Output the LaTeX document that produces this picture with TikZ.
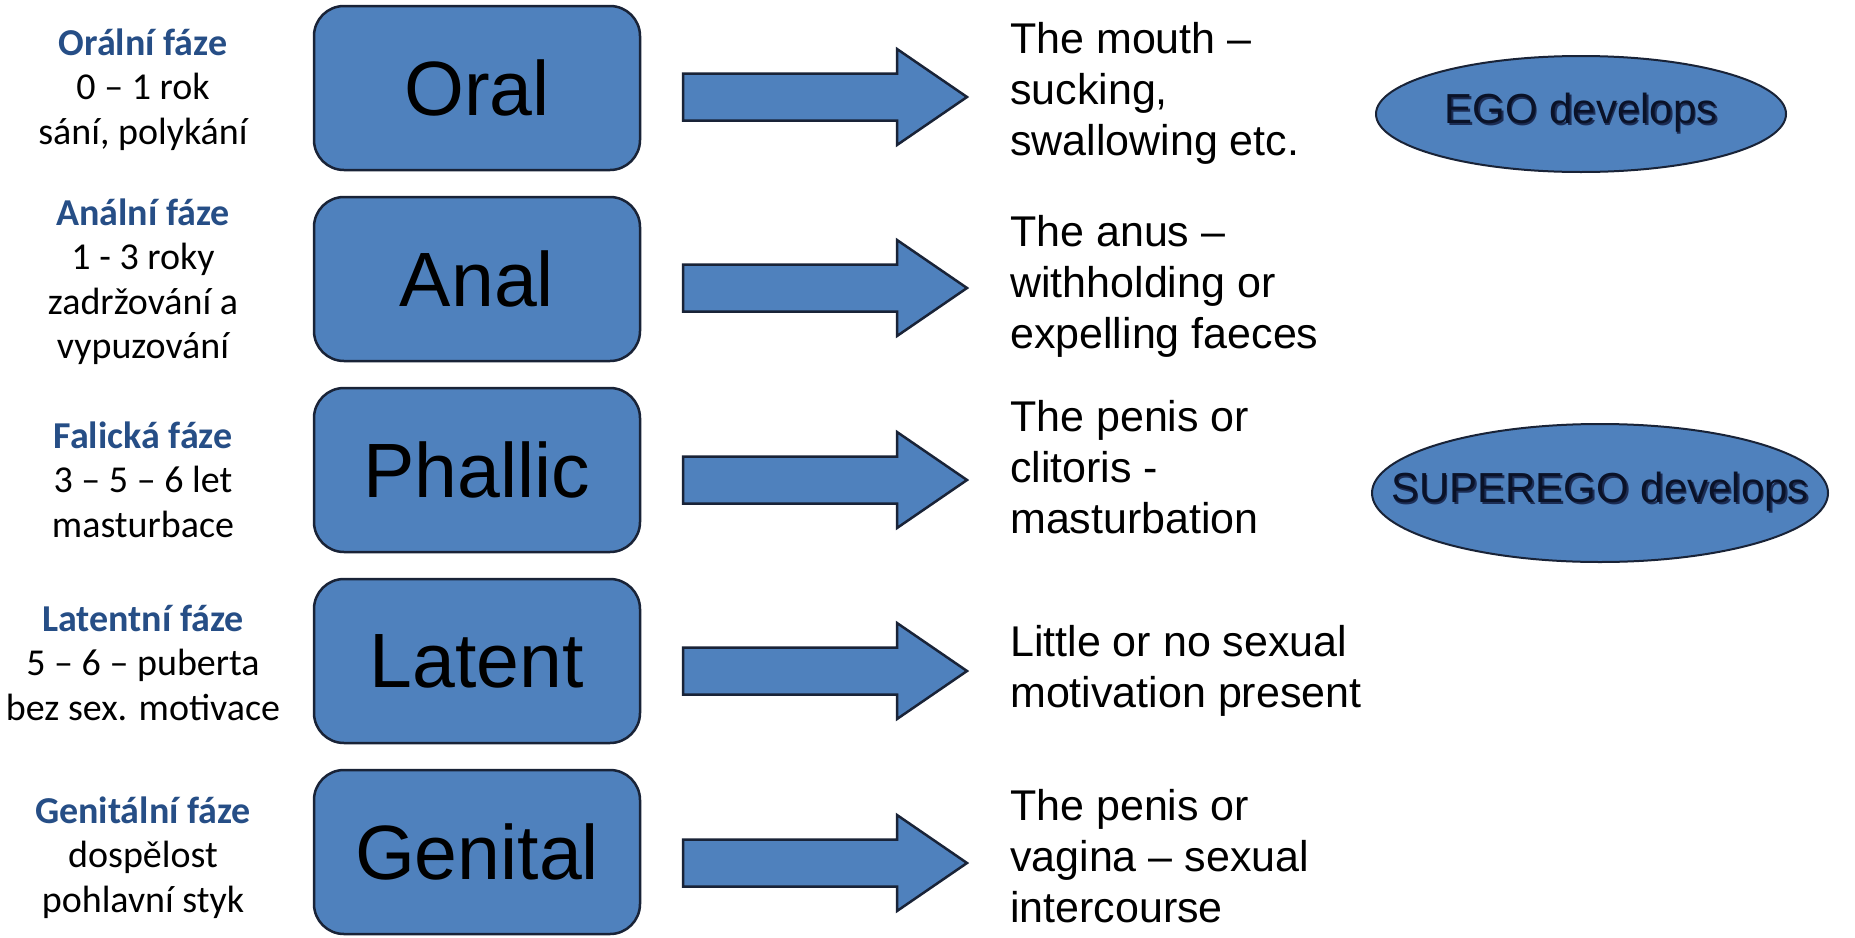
\documentclass[tikz,border=0pt]{standalone}
\usepackage{fontspec}
\setmainfont{Liberation Sans}
\newfontfamily\calib{Carlito}
\usetikzlibrary{shapes.geometric}
\definecolor{boxblue}{RGB}{79,129,189}
\definecolor{edgedark}{RGB}{25,35,55}
\definecolor{titleblue}{RGB}{38,78,134}
\definecolor{egotext}{RGB}{10,18,40}
\definecolor{egoshadow}{RGB}{28,45,85}
\newcommand\blockarr[1]{%
  \draw[arrowshape] (683,#1-23.5) -- (897,#1-23.5) -- (897,#1-48) -- (967,#1)
    -- (897,#1+48) -- (897,#1+23.5) -- (683,#1+23.5) -- cycle;}
\newcommand\shadowtext[1]{\makebox[0pt]{\makebox[0pt][l]{\kern1.8pt\raisebox{-1.8pt}{\textcolor{egoshadow}{#1}}}#1}}
\begin{document}
\begin{tikzpicture}[x=1pt,y=-1pt,
  stagebox/.style={draw=edgedark, line width=2.5pt, fill=boxblue, rounded corners=30pt,
    minimum width=326pt, minimum height=164pt, inner sep=0pt,
    font=\fontsize{77}{80}\selectfont},
  arrowshape/.style={draw=edgedark, line width=2.5pt, fill=boxblue, line join=miter},
  desc/.style={anchor=base west, inner sep=0pt, font=\fontsize{43}{51}\selectfont},
  phase/.style={anchor=base, inner sep=0pt, font=\calib\fontsize{38}{44.5}\selectfont},
  egobox/.style={ellipse, draw=edgedark, line width=2pt, fill=boxblue, inner sep=0pt,
    text=egotext, font=\fontsize{42}{46}\selectfont}
]
\useasboundingbox (0,0) rectangle (1855,937);
\fill[white] (0,0) rectangle (1855,937);

% left labels
\node[phase] (l1) at (143,55) {\begin{tabular}[t]{@{}c@{}}{\bfseries\color{titleblue}Orální fáze}\\0 – 1 rok\\sání, polykání\end{tabular}};
\node[phase] (l2) at (143,225) {\begin{tabular}[t]{@{}c@{}}{\bfseries\color{titleblue}Anální fáze}\\1 - 3 roky\\zadržování a\\vypuzování\end{tabular}};
\node[phase] (l3) at (143,448) {\begin{tabular}[t]{@{}c@{}}{\bfseries\color{titleblue}Falická fáze}\\3 – 5 – 6 let\\masturbace\end{tabular}};
\node[phase] (l4) at (143,631) {\begin{tabular}[t]{@{}c@{}}{\bfseries\color{titleblue}Latentní fáze}\\5 – 6 – puberta\\bez sex. motivace\end{tabular}};
\node[phase] (l5) at (143,823) {\begin{tabular}[t]{@{}c@{}}{\bfseries\color{titleblue}Genitální fáze}\\dospělost\\pohlavní styk\end{tabular}};

% stage boxes
\node[stagebox] (oral) at (477,88) {Oral};
\node[stagebox] (anal) at (477,279) {Anal};
\node[stagebox] (phallic) at (477,470) {Phallic};
\node[stagebox] (latent) at (477,661) {Latent};
\node[stagebox] (genital) at (477,852) {Genital};

% block arrows
\blockarr{97}
\blockarr{288}
\blockarr{480}
\blockarr{671}
\blockarr{863}

% descriptions
\node[desc] (d1) at (1010,53) {\begin{tabular}[t]{@{}l@{}}The mouth –\\sucking,\\swallowing etc.\end{tabular}};
\node[desc] (d2) at (1010,246) {\begin{tabular}[t]{@{}l@{}}The anus –\\withholding or\\expelling faeces\end{tabular}};
\node[desc] (d3) at (1010,431) {\begin{tabular}[t]{@{}l@{}}The penis or\\clitoris -\\masturbation\end{tabular}};
\node[desc] (d4) at (1010,656) {\begin{tabular}[t]{@{}l@{}}Little or no sexual\\motivation present\end{tabular}};
\node[desc] (d5) at (1010,820) {\begin{tabular}[t]{@{}l@{}}The penis or\\vagina – sexual\\intercourse\end{tabular}};

% ellipses
\node[egobox, minimum width=410pt, minimum height=116pt] (ego) at (1581,114) {\shadowtext{EGO develops}};
\node[egobox, minimum width=456pt, minimum height=138pt] (superego) at (1600,493) {\shadowtext{SUPEREGO develops}};
\end{tikzpicture}
\end{document}
